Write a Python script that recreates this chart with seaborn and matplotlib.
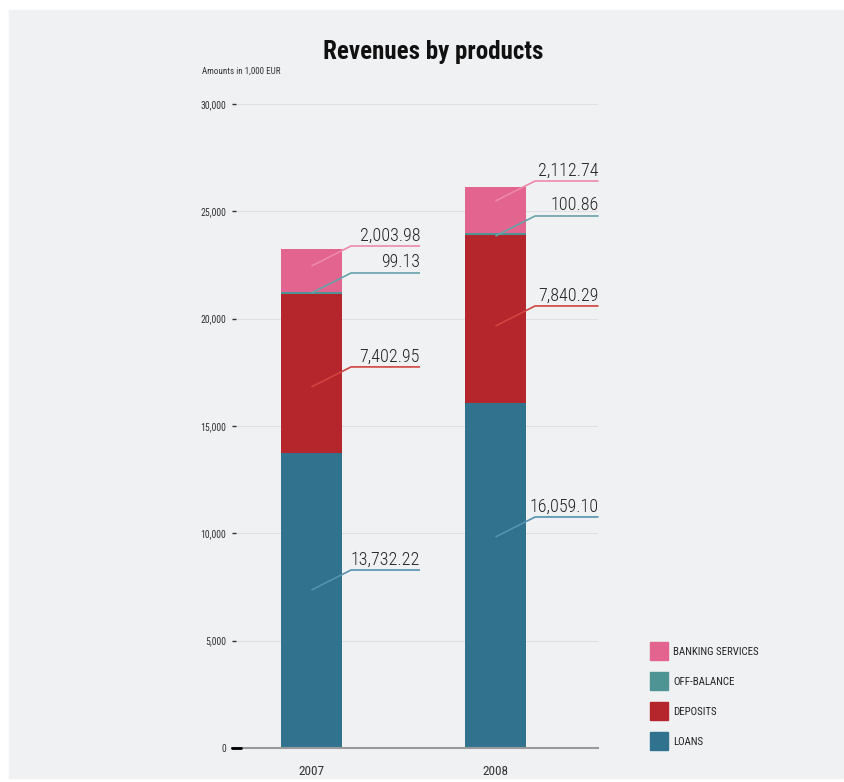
import matplotlib
matplotlib.use("Agg")
import matplotlib.pyplot as plt
import matplotlib.patches as mpatches
from matplotlib import font_manager
import seaborn as sns
import pandas as pd

# data
years = ["2007", "2008"]
products = ["LOANS", "DEPOSITS", "OFF-BALANCE", "BANKING SERVICES"]
loans = [13732.22, 16059.10]
deposits = [7402.95, 7840.29]
off_balance = [99.13, 100.86]
banking = [2003.98, 2112.74]
# where each callout leaves its segment (in 1,000 EUR)
callout_anchor = {
    "LOANS": [7360, 9830],
    "DEPOSITS": [16820, 19660],
    "OFF-BALANCE": [21196, 23851],
    "BANKING SERVICES": [22453, 25481],
}
y_ticks = [0, 5000, 10000, 15000, 20000, 25000, 30000]

bar_colors = {"LOANS": "#31738f", "DEPOSITS": "#b4252c",
              "OFF-BALANCE": "#4e9495", "BANKING SERVICES": "#e3658f"}
line_colors = {"LOANS": "#5592b0", "DEPOSITS": "#cf4540",
               "OFF-BALANCE": "#65a3aa", "BANKING SERVICES": "#ee88a9"}


def pick_font():
    # the original uses a condensed sans, take the narrowest one we have
    fonts = font_manager.fontManager.ttflist
    names = {f.name for f in fonts}
    for n in ["Liberation Sans Narrow", "Roboto Condensed", "Open Sans Condensed"]:
        if n in names:
            return n, "normal"
    for f in fonts:
        if f.name == "DejaVu Sans" and "condensed" in str(f.stretch).lower():
            return "DejaVu Sans", "condensed"
    if "Roboto" in names:
        return "Roboto", "normal"
    return "DejaVu Sans", "normal"


FONT, STRETCH = pick_font()

sns.set_theme(style="white")
plt.rcParams["font.family"] = [FONT, "DejaVu Sans"]
plt.rcParams["font.stretch"] = STRETCH

W, H = 845, 782
fig = plt.figure(figsize=(W / 100, H / 100), dpi=100, facecolor="white")
fig.patches.append(mpatches.Rectangle((9 / W, 1 - 778 / H), 834 / W, 768 / H,
                                      transform=fig.transFigure, color="#f0f1f3",
                                      zorder=-10))

ax = fig.add_axes([232 / W, 1 - 748 / H, 366 / W, 644 / H])
ax.set_facecolor("none")

df = pd.DataFrame({"Year": years, "LOANS": loans, "DEPOSITS": deposits,
                   "OFF-BALANCE": off_balance, "BANKING SERVICES": banking})
cum = df[products].cumsum(axis=1)

# stacked bars: draw the tallest cumulative first, then cover with smaller ones
for p in products[::-1]:
    sns.barplot(x=df["Year"], y=cum[p], color=bar_colors[p], width=0.33,
                saturation=1, ax=ax, zorder=3, linewidth=0)

ax.set_xlim(-0.432, 1.557)
ax.set_ylim(0, 30000)
ax.set_yticks(y_ticks)
ax.set_yticklabels([f"{t:,}" for t in y_ticks])
ax.yaxis.grid(True, color="#dfe0e3", linewidth=0.8, zorder=0)
ax.set_axisbelow(True)
for s in ["top", "right", "left"]:
    ax.spines[s].set_visible(False)
ax.spines["bottom"].set_color("#9a9a9a")
ax.spines["bottom"].set_linewidth(1.5)
ax.spines["bottom"].set_zorder(4)
ax.tick_params(axis="y", direction="in", length=3, width=1, color="#333333",
               labelsize=7, labelcolor="#333333", pad=4, left=True)
ax.tick_params(axis="x", length=0, labelsize=9.5, labelcolor="#333333", pad=12)
ax.set_xlabel("")
ax.set_ylabel("")
# darker tick at zero
ax.plot([0, 0.025], [0, 0], transform=ax.get_yaxis_transform(), color="black",
        linewidth=2, clip_on=False, zorder=5)

# callouts
rise = 932
for i in range(len(years)):
    end = i + (0.59 if i == 0 else 0.56)
    for p in products:
        y0 = callout_anchor[p][i]
        y1 = y0 + rise
        xs = [i, i + 0.215, end]
        ax.plot(xs, [y0, y1, y1], color=line_colors[p], linewidth=1.2,
                clip_on=False, zorder=6, solid_capstyle="butt")
        ax.annotate(f"{df.loc[i, p]:,.2f}", xy=(end, y1), xytext=(0, 4),
                    textcoords="offset points", ha="right", va="baseline",
                    fontsize=13, fontweight="light", color="#222222", zorder=7,
                    annotation_clip=False)

fig.text(433 / W, 1 - 52 / H, "Revenues by products", ha="center", va="center",
         fontsize=18, fontweight="bold", color="#111111")
fig.text(202 / W, 1 - 71 / H, "Amounts in 1,000 EUR", ha="left", va="center",
         fontsize=6.5, color="#333333")

# legend: square swatches with labels, top to bottom
for k, p in enumerate(products[::-1]):
    top = 642 + 30 * k
    fig.patches.append(mpatches.Rectangle((650 / W, 1 - (top + 18) / H), 18 / W, 18 / H,
                                          transform=fig.transFigure,
                                          color=bar_colors[p], zorder=2))
    fig.text(673 / W, 1 - (top + 10) / H, p, ha="left", va="center",
             fontsize=7.8, color="#222222")

fig.savefig("out.png", dpi=100, facecolor="white")
